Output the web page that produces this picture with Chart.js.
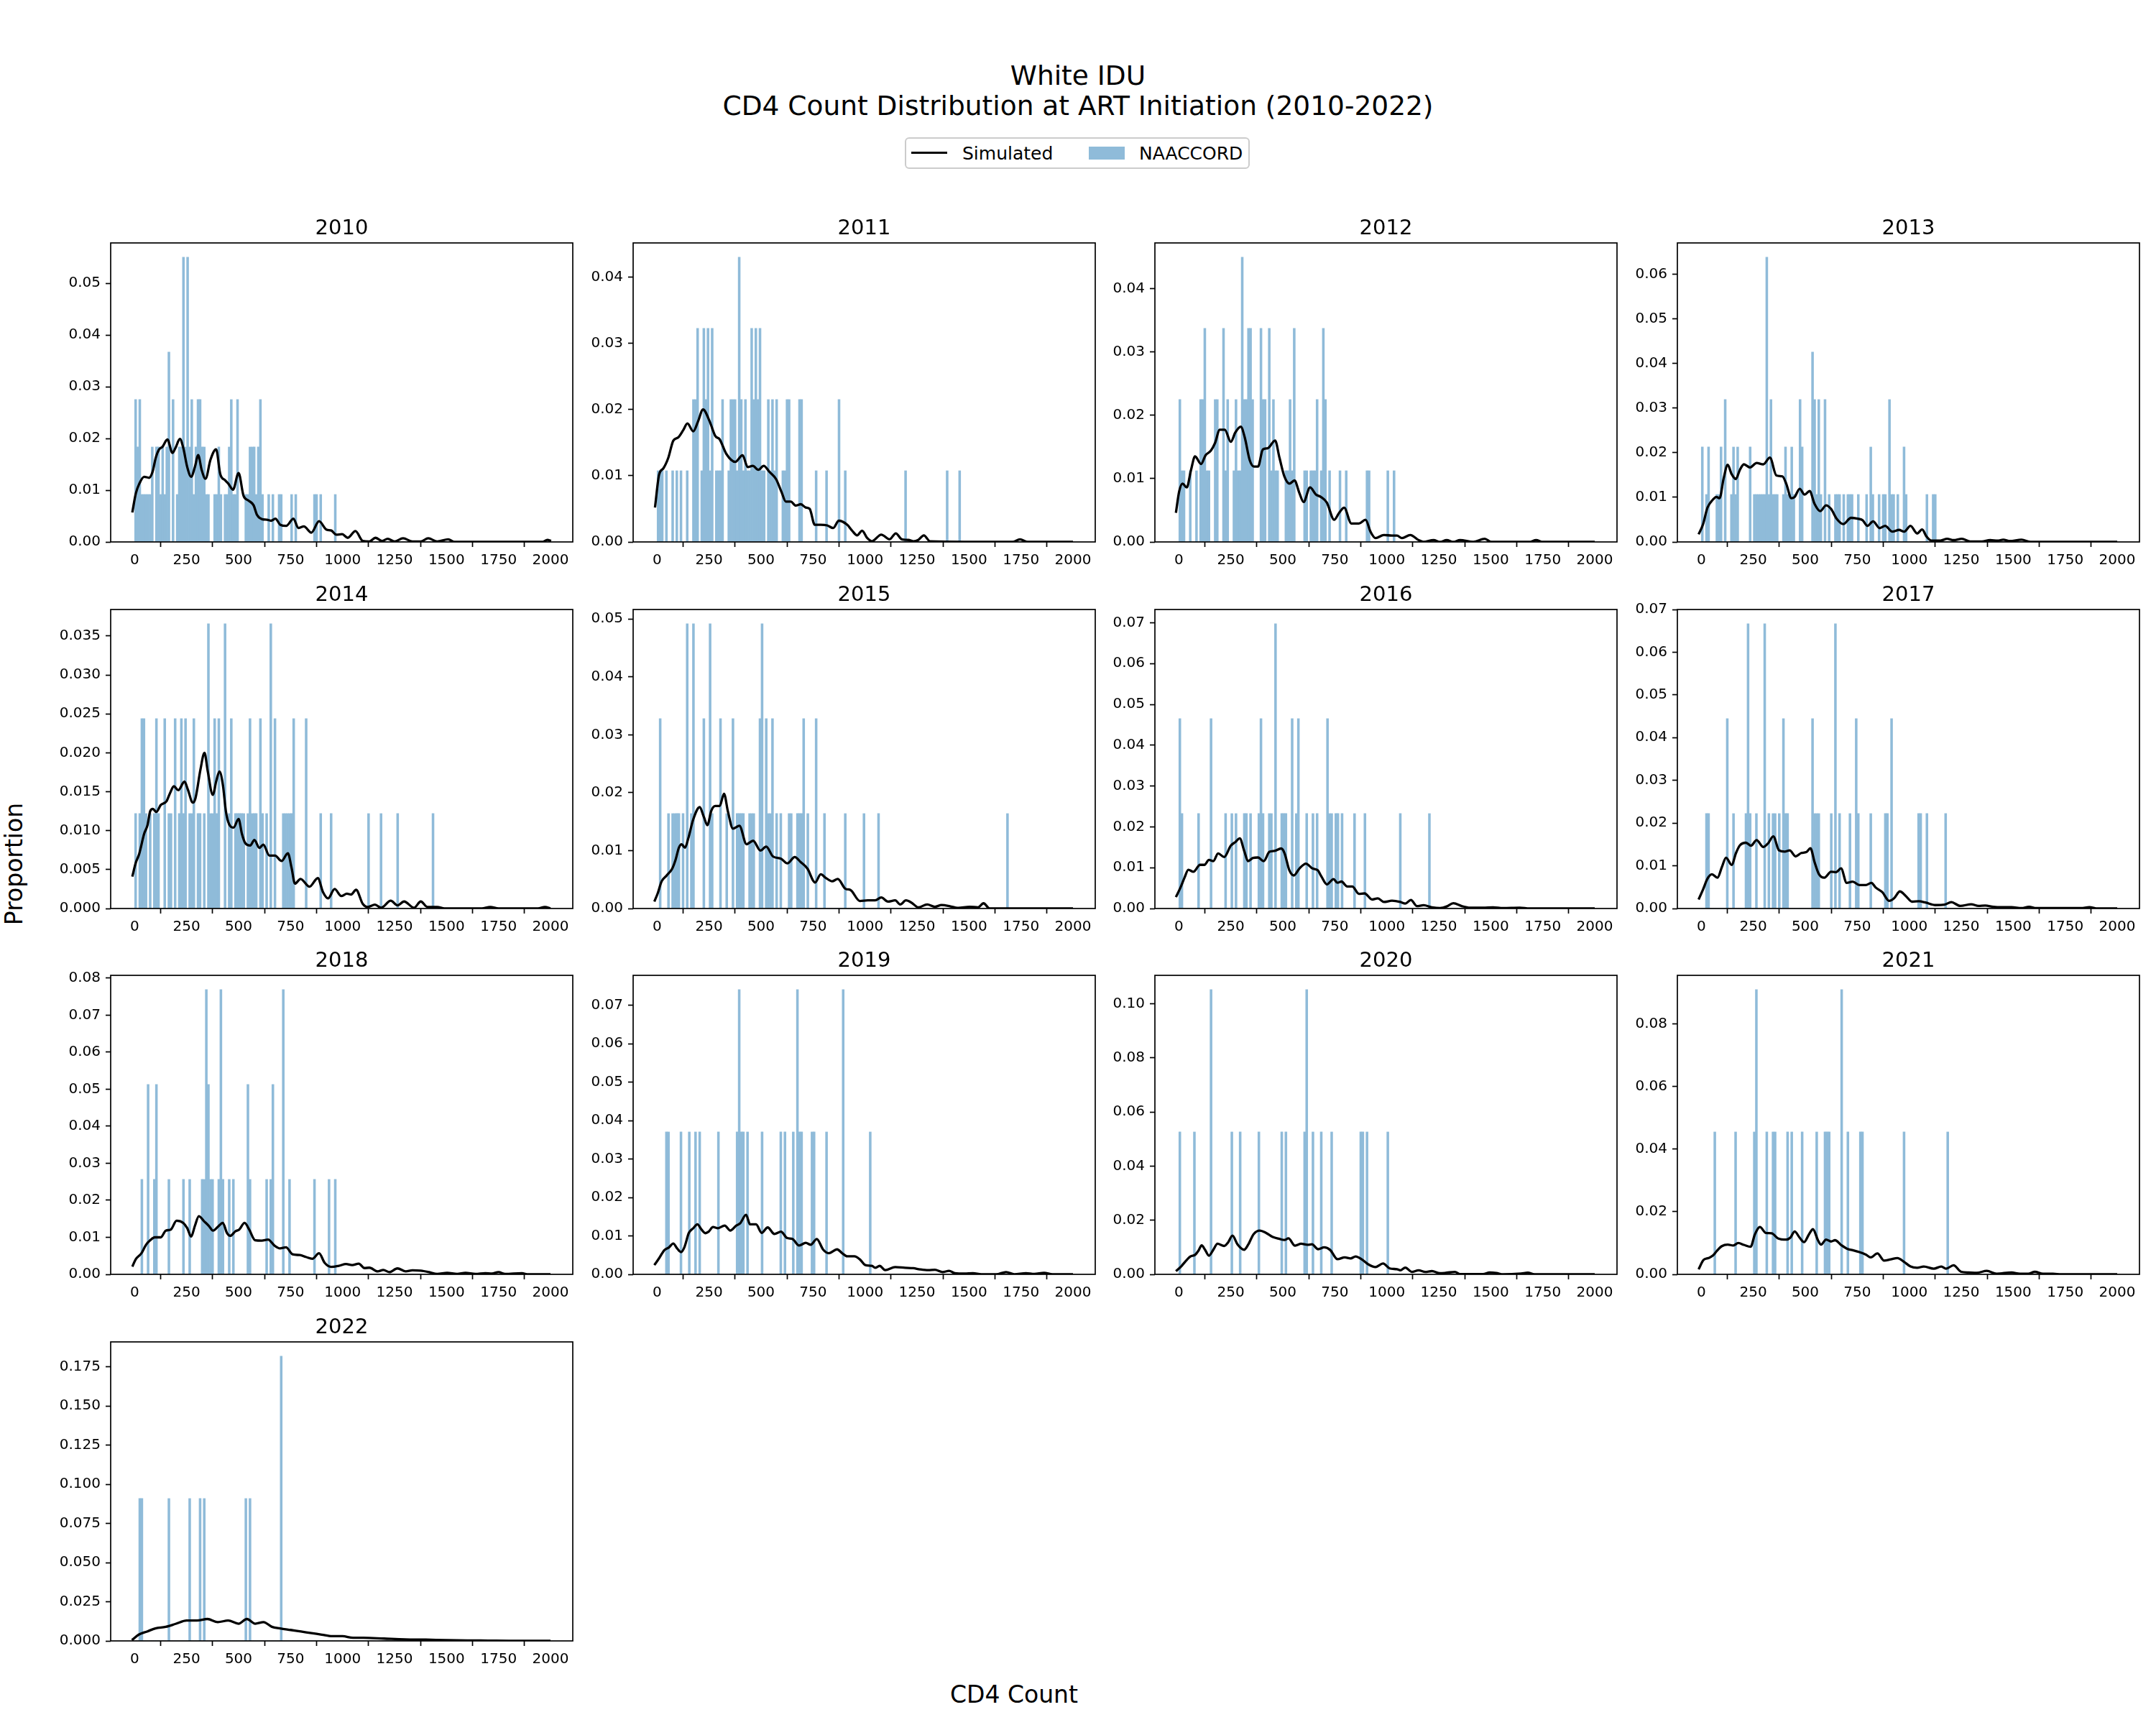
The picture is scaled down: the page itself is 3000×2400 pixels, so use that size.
<!DOCTYPE html>
<html>
<head>
<meta charset="utf-8">
<script src="https://cdn.jsdelivr.net/npm/chart.js@4.4.1/dist/chart.umd.min.js"></script>
<style>
  body { margin: 0; background: #fff; }
  #fig { position: relative; width: 3000px; height: 2400px; overflow: hidden; background: #fff;
         font-family: 'DejaVu Sans', sans-serif; color: #000; }
  #fig canvas { position: absolute; }
  .txt { position: absolute; line-height: 1; white-space: nowrap; }
</style>
</head>
<body>
<div id="fig">
  <div class="txt" style="left:0; width:3000px; text-align:center; top:87px; font-size:37.5px;">White IDU</div>
  <div class="txt" style="left:0; width:3000px; text-align:center; top:129px; font-size:37.5px;">CD4 Count Distribution at ART Initiation (2010-2022)</div>

  <div style="position:absolute; left:1259px; top:191px; width:480px; height:44px; box-sizing:border-box; border:2px solid #cccccc; border-radius:6px; background:#fff;"></div>
  <div style="position:absolute; left:1268px; top:211px; width:50px; height:3px; background:#000;"></div>
  <div class="txt" style="left:1339px; top:201px; font-size:25px;">Simulated</div>
  <div style="position:absolute; left:1515px; top:204px; width:50px; height:17.5px; background:#8fbbd9;"></div>
  <div class="txt" style="left:1585px; top:201px; font-size:25px;">NAACCORD</div>

  <div class="txt" style="left:19px; top:1202px; font-size:33px; transform:translate(-50%,-50%) rotate(-90deg);">Proportion</div>
  <div class="txt" style="left:1411px; top:2357px; font-size:33px; transform:translate(-50%,-50%);">CD4 Count</div>
</div>
<script>
// ---- data ----
const binWidth = 10;
const xTicks = [0, 250, 500, 750, 1000, 1250, 1500, 1750, 2000];

// NAACCORD: [bin start, patients in bin], n = patients that year
const n2010 = 109;
const bars2010 = [[0,3],[10,2],[20,3],[30,1],[40,1],[50,1],[60,1],[70,1],[80,2],[100,2],[110,2],[120,1],[130,2],[140,1],[150,2],[160,4],[180,3],[200,1],[210,2],[220,2],[230,6],[240,2],[250,6],[260,2],[270,3],[280,1],[290,2],[300,3],[310,3],[320,2],[330,2],[340,1],[350,1],[380,1],[390,1],[400,2],[410,1],[430,1],[440,1],[450,2],[460,3],[470,1],[480,1],[490,3],[530,1],[540,1],[550,2],[560,2],[570,2],[580,1],[590,2],[600,3],[610,1],[640,1],[660,1],[690,1],[700,1],[750,1],[770,1],[860,1],[870,1],[890,1],[960,1]];
const n2011 = 93;
const bars2011 = [[0,1],[10,1],[20,1],[40,1],[70,1],[90,1],[110,1],[140,1],[170,2],[180,2],[190,3],[210,1],[220,3],[230,2],[240,3],[250,1],[260,3],[280,1],[290,1],[300,1],[310,2],[340,1],[350,2],[360,2],[370,2],[380,1],[390,4],[400,2],[410,1],[420,2],[430,1],[440,1],[450,3],[460,2],[470,3],[480,2],[490,3],[500,1],[510,1],[530,2],[540,1],[550,2],[560,1],[570,2],[600,1],[610,1],[620,2],[630,2],[680,2],[690,2],[760,1],[810,1],[870,2],[900,1],[1190,1],[1390,1],[1450,1]];
const n2012 = 89;
const bars2012 = [[0,2],[10,1],[20,1],[50,1],[80,1],[100,2],[110,2],[120,3],[130,1],[140,1],[170,2],[180,2],[210,3],[220,1],[230,2],[260,1],[270,2],[280,1],[290,1],[300,4],[310,2],[320,2],[330,3],[340,3],[350,2],[390,3],[400,2],[410,2],[430,3],[440,1],[450,2],[460,1],[470,1],[510,1],[520,1],[530,2],[540,1],[550,3],[600,1],[610,1],[630,1],[640,1],[650,1],[660,2],[680,1],[690,3],[700,2],[720,1],[770,1],[800,1],[900,1],[910,1],[1000,1],[1030,1]];
const n2013 = 94;
const bars2013 = [[0,2],[20,1],[30,2],[70,1],[80,1],[90,2],[110,3],[140,1],[150,2],[160,1],[170,2],[230,2],[250,1],[260,1],[270,1],[280,1],[290,1],[300,1],[310,6],[320,1],[330,3],[340,1],[350,1],[360,1],[390,1],[400,2],[410,1],[420,1],[430,2],[440,1],[470,3],[480,2],[530,4],[540,3],[550,1],[560,3],[570,1],[590,3],[610,1],[640,1],[650,1],[660,1],[680,1],[700,1],[710,1],[720,1],[750,1],[790,1],[810,2],[820,1],[850,1],[870,1],[880,1],[900,3],[910,1],[920,1],[940,1],[970,2],[980,1],[1080,1],[1110,1],[1120,1]];
const n2014 = 82;
const bars2014 = [[0,1],[20,1],[30,2],[40,2],[50,1],[70,1],[90,1],[100,2],[110,1],[140,2],[160,1],[170,1],[190,2],[210,1],[220,2],[230,1],[240,2],[260,1],[270,1],[280,2],[300,1],[310,1],[330,1],[350,3],[360,1],[370,1],[380,2],[390,1],[400,2],[430,3],[450,1],[460,2],[480,1],[490,1],[500,1],[510,1],[520,1],[540,1],[550,2],[560,1],[570,1],[580,1],[600,2],[610,1],[630,1],[650,3],[670,2],[710,1],[720,1],[730,1],[740,1],[750,1],[760,2],[820,2],[890,1],[940,1],[1120,1],[1180,1],[1260,1],[1430,1]];
const n2015 = 61;
const bars2015 = [[10,2],[50,1],[70,1],[80,1],[90,1],[100,1],[120,1],[140,3],[160,1],[170,3],[220,2],[250,3],[260,1],[300,2],[330,1],[360,2],[380,1],[390,1],[400,1],[410,1],[440,1],[450,1],[460,1],[490,2],[500,3],[520,2],[530,1],[540,1],[550,2],[570,1],[590,1],[630,1],[640,1],[670,1],[680,1],[690,1],[700,2],[720,1],[760,2],[800,1],[900,1],[990,1],[1060,1],[1680,1]];
const n2016 = 43;
const bars2016 = [[0,2],[10,1],[90,1],[150,2],[220,1],[250,1],[270,1],[310,1],[320,1],[340,1],[380,1],[390,2],[400,1],[430,1],[440,1],[460,3],[490,1],[500,1],[510,1],[540,2],[560,1],[570,2],[610,1],[640,1],[660,1],[710,2],[720,1],[730,1],[750,1],[760,1],[780,1],[840,1],[890,1],[1060,1],[1200,1]];
const n2017 = 45;
const bars2017 = [[20,1],[30,1],[120,2],[150,1],[210,1],[220,3],[230,1],[260,1],[300,3],[320,1],[340,1],[350,1],[370,1],[390,2],[400,1],[410,1],[530,2],[540,1],[550,1],[560,1],[620,1],[640,3],[660,1],[710,1],[740,2],[750,1],[810,1],[880,1],[890,1],[910,2],[1040,1],[1050,1],[1080,1],[1170,1]];
const n2018 = 39;
const bars2018 = [[30,1],[60,2],[90,1],[100,2],[160,1],[230,1],[260,1],[320,1],[330,1],[340,3],[350,2],[360,1],[370,1],[400,1],[410,3],[420,1],[450,1],[470,1],[540,2],[550,1],[630,1],[650,1],[660,2],[710,3],[740,1],[860,1],[930,1],[960,1]];
const n2019 = 27;
const bars2019 = [[40,1],[50,1],[110,1],[150,1],[180,1],[200,1],[290,1],[380,1],[390,2],[400,1],[410,1],[430,1],[500,1],[590,1],[610,1],[650,1],[670,2],[680,1],[690,1],[740,1],[750,1],[810,1],[890,2],[1020,1]];
const n2020 = 19;
const bars2020 = [[0,1],[70,1],[150,2],[250,1],[290,1],[380,1],[490,1],[510,1],[600,1],[610,2],[640,1],[680,1],[730,1],[870,1],[880,1],[900,1],[1000,1]];
const n2021 = 22;
const bars2021 = [[60,1],[160,1],[250,1],[260,2],[310,1],[340,1],[350,1],[410,1],[430,1],[480,1],[550,1],[590,1],[600,1],[610,1],[670,2],[700,1],[760,1],[770,1],[970,1],[1180,1]];
const n2022 = 11;
const bars2022 = [[20,1],[30,1],[160,1],[260,1],[310,1],[330,1],[530,1],[550,1],[700,2]];

// Simulated density: [CD4 count, proportion]
const sim2010 = [[-11,0.0057],[6,0.0094],[22,0.0112],[46,0.0126],[70,0.0124],[86,0.0135],[102,0.0163],[118,0.0179],[134,0.0184],[158,0.0198],[182,0.0172],[197,0.0182],[218,0.0199],[234,0.0182],[253,0.0145],[272,0.0126],[290,0.0145],[306,0.0168],[322,0.0140],[341,0.0122],[365,0.0159],[392,0.0179],[412,0.0131],[436,0.0119],[452,0.0112],[473,0.0101],[500,0.0133],[524,0.0089],[548,0.0080],[572,0.0071],[589,0.0052],[613,0.0044],[637,0.0043],[656,0.0041],[677,0.0045],[701,0.0033],[729,0.0031],[764,0.0045],[787,0.0027],[814,0.0030],[850,0.0018],[887,0.0040],[922,0.0024],[946,0.0022],[970,0.0014],[998,0.0015],[1025,0.0008],[1062,0.0021],[1097,0.0002],[1129,0.0001],[1158,0.0008],[1190,0.0002],[1217,0.0006],[1250,0.0001],[1291,0.0007],[1336,0.0001],[1376,0.0001],[1412,0.0007],[1455,0.0001],[1508,0.0005],[1538,0],[1960,0],[1985,0.0004],[2003,0.0002]];
const sim2011 = [[-10,0.0052],[10,0.0102],[30,0.0111],[54,0.0127],[78,0.0153],[102,0.0158],[126,0.0169],[146,0.0179],[174,0.0167],[197,0.0182],[221,0.0200],[253,0.0182],[280,0.0160],[301,0.0155],[333,0.0133],[376,0.0121],[411,0.0131],[436,0.0113],[460,0.0115],[487,0.0109],[513,0.0115],[540,0.0106],[572,0.0095],[599,0.0075],[619,0.0061],[643,0.0061],[667,0.0055],[691,0.0057],[715,0.0052],[734,0.0050],[758,0.0026],[787,0.0026],[818,0.0025],[847,0.0021],[874,0.0032],[914,0.0026],[938,0.0017],[962,0.0010],[986,0.0017],[1010,0.0006],[1033,0.0001],[1078,0.0011],[1118,0.0004],[1148,0.0013],[1177,0.0004],[1209,0.0003],[1232,0.0001],[1256,0.0003],[1283,0.0010],[1312,0.0001],[1710,0],[1745,0.0004],[1782,0],[2000,0]];
const sim2012 = [[-14,0.0046],[2,0.0080],[18,0.0092],[38,0.0086],[59,0.0114],[78,0.0135],[107,0.0123],[129,0.0137],[154,0.0144],[174,0.0156],[197,0.0177],[221,0.0177],[250,0.0158],[272,0.0173],[298,0.0182],[317,0.0165],[341,0.0129],[361,0.0119],[381,0.0119],[404,0.0146],[428,0.0148],[463,0.0160],[484,0.0133],[508,0.0103],[532,0.0092],[556,0.0097],[580,0.0077],[600,0.0063],[631,0.0086],[659,0.0075],[683,0.0071],[712,0.0062],[747,0.0035],[771,0.0046],[795,0.0054],[830,0.0029],[866,0.0029],[898,0.0035],[922,0.0016],[946,0.0006],[986,0.0011],[1025,0.0010],[1049,0.0010],[1073,0.0006],[1113,0.0011],[1153,0.0003],[1177,0],[1225,0.0003],[1256,0],[1288,0.0003],[1320,0],[1352,0.0003],[1416,0],[1471,0.0005],[1503,0],[1686,0],[1718,0.0003],[1750,0],[2000,0]];
const sim2013 = [[-13,0.0017],[8,0.0039],[30,0.0077],[56,0.0095],[72,0.0101],[88,0.0098],[107,0.0141],[127,0.0173],[146,0.0152],[166,0.0141],[186,0.0162],[205,0.0174],[234,0.0167],[266,0.0177],[298,0.0174],[330,0.0189],[361,0.0149],[390,0.0147],[409,0.0130],[433,0.0098],[449,0.0101],[473,0.0119],[497,0.0106],[521,0.0114],[545,0.0085],[572,0.0069],[600,0.0082],[624,0.0074],[651,0.0052],[683,0.0040],[720,0.0054],[752,0.0052],[775,0.0049],[799,0.0036],[826,0.0046],[858,0.0031],[884,0.0036],[919,0.0023],[951,0.0027],[975,0.0023],[1006,0.0036],[1038,0.0019],[1062,0.0028],[1083,0.0012],[1107,0.0003],[1150,0.0003],[1182,0.0007],[1213,0.0004],[1253,0.0007],[1293,0.0001],[1349,0.0001],[1389,0.0004],[1425,0.0003],[1452,0.0005],[1484,0.0002],[1540,0.0005],[1584,0],[2000,0]];
const sim2014 = [[-11,0.0041],[6,0.0059],[22,0.0070],[46,0.0096],[62,0.0107],[75,0.0125],[88,0.0128],[104,0.0124],[126,0.0133],[154,0.0138],[170,0.0148],[189,0.0157],[210,0.0152],[240,0.0163],[256,0.0153],[280,0.0136],[293,0.0142],[317,0.0179],[336,0.0200],[352,0.0176],[376,0.0146],[393,0.0164],[408,0.0176],[425,0.0158],[439,0.0125],[455,0.0108],[476,0.0104],[500,0.0115],[516,0.0096],[532,0.0084],[556,0.0081],[576,0.0088],[600,0.0078],[619,0.0082],[648,0.0068],[675,0.0068],[707,0.0061],[737,0.0071],[755,0.0052],[771,0.0032],[798,0.0038],[841,0.0028],[881,0.0039],[906,0.0021],[930,0.0013],[962,0.0025],[994,0.0016],[1021,0.0019],[1041,0.0018],[1065,0.0024],[1097,0.0006],[1121,0.0002],[1156,0.0005],[1185,0.0001],[1232,0.0010],[1264,0.0004],[1296,0.0009],[1344,0.0001],[1376,0.0009],[1408,0.0002],[1455,0.0002],[1490,0],[1670,0],[1710,0.0002],[1750,0],[1940,0],[1973,0.0002],[2000,0]];
const sim2015 = [[-13,0.0012],[3,0.0026],[22,0.0047],[46,0.0057],[73,0.0069],[89,0.0084],[105,0.0105],[118,0.0111],[134,0.0105],[150,0.0121],[174,0.0154],[205,0.0175],[225,0.0158],[242,0.0144],[261,0.0169],[280,0.0177],[301,0.0177],[322,0.0198],[341,0.0167],[365,0.0138],[396,0.0143],[430,0.0111],[462,0.0117],[497,0.0100],[525,0.0107],[557,0.0090],[596,0.0086],[627,0.0078],[662,0.0089],[691,0.0080],[723,0.0069],[760,0.0045],[787,0.0059],[811,0.0053],[842,0.0047],[869,0.0051],[906,0.0034],[930,0.0032],[975,0.0013],[1013,0.0014],[1049,0.0014],[1078,0.0019],[1110,0.0012],[1145,0.0014],[1169,0.0007],[1197,0.0014],[1224,0.0010],[1256,0.0002],[1299,0.0007],[1336,0.0003],[1368,0.0006],[1408,0.0004],[1447,0.0001],[1503,0.0003],[1543,0.0002],[1570,0.0009],[1599,0],[2000,0]];
const sim2016 = [[-14,0.0028],[6,0.0049],[27,0.0075],[46,0.0095],[70,0.0090],[102,0.0107],[123,0.0107],[145,0.0119],[166,0.0116],[189,0.0135],[218,0.0126],[250,0.0154],[272,0.0163],[293,0.0172],[314,0.0142],[333,0.0116],[357,0.0124],[381,0.0125],[408,0.0116],[436,0.0139],[460,0.0141],[492,0.0147],[508,0.0136],[532,0.0093],[553,0.0081],[580,0.0098],[611,0.0110],[643,0.0098],[667,0.0094],[686,0.0078],[712,0.0059],[744,0.0072],[763,0.0063],[782,0.0066],[810,0.0054],[834,0.0054],[866,0.0036],[893,0.0037],[930,0.0022],[957,0.0025],[986,0.0016],[1025,0.0019],[1065,0.0016],[1089,0.0012],[1116,0.0021],[1145,0.0006],[1177,0.0008],[1217,0.0003],[1256,0.0001],[1288,0.0005],[1320,0.0013],[1360,0.0006],[1400,0.0002],[1463,0.0002],[1511,0.0003],[1559,0.0001],[1639,0.0002],[1686,0],[2000,0]];
const sim2017 = [[-13,0.0021],[8,0.0044],[30,0.0070],[51,0.0080],[78,0.0072],[99,0.0097],[119,0.0119],[146,0.0102],[167,0.0130],[186,0.0148],[215,0.0154],[239,0.0147],[266,0.0160],[298,0.0144],[322,0.0153],[346,0.0169],[374,0.0136],[401,0.0133],[425,0.0136],[454,0.0122],[481,0.0130],[505,0.0132],[525,0.0141],[545,0.0108],[565,0.0081],[592,0.0072],[624,0.0086],[648,0.0085],[672,0.0094],[699,0.0060],[728,0.0063],[760,0.0055],[791,0.0055],[818,0.0060],[839,0.0049],[871,0.0038],[903,0.0018],[927,0.0024],[955,0.0040],[982,0.0030],[1014,0.0016],[1046,0.0017],[1078,0.0014],[1126,0.0008],[1170,0.0009],[1202,0.0015],[1245,0.0006],[1298,0.0010],[1333,0.0006],[1365,0.0007],[1404,0.0004],[1444,0.0003],[1492,0.0003],[1540,0.0001],[1576,0.0004],[1611,0.0001],[1826,0.0001],[1866,0.0003],[1906,0],[2000,0]];
const sim2018 = [[-11,0.0021],[6,0.0041],[33,0.0057],[54,0.0079],[75,0.0092],[97,0.0100],[126,0.0100],[150,0.0118],[174,0.0121],[202,0.0145],[234,0.0139],[253,0.0125],[272,0.0102],[290,0.0131],[309,0.0157],[333,0.0144],[357,0.0131],[377,0.0118],[400,0.0128],[424,0.0139],[444,0.0112],[460,0.0104],[484,0.0116],[503,0.0121],[529,0.0139],[551,0.0121],[580,0.0092],[611,0.0091],[642,0.0094],[672,0.0078],[699,0.0070],[728,0.0073],[760,0.0054],[795,0.0052],[823,0.0047],[855,0.0042],[887,0.0057],[914,0.0031],[946,0.0020],[982,0.0023],[1017,0.0028],[1046,0.0025],[1078,0.0029],[1105,0.0017],[1129,0.0018],[1169,0.0008],[1196,0.0012],[1225,0.0006],[1264,0.0016],[1304,0.0008],[1336,0.0011],[1376,0.0010],[1416,0.0006],[1455,0.0001],[1503,0.0004],[1551,0.0001],[1591,0.0004],[1639,0.0001],[1686,0.0003],[1718,0.0002],[1750,0.0006],[1782,0.0001],[1862,0.0003],[1893,0],[2000,0]];
const sim2019 = [[-13,0.0024],[10,0.0042],[35,0.0063],[57,0.0070],[78,0.0080],[97,0.0067],[115,0.0058],[131,0.0070],[153,0.0108],[174,0.0120],[194,0.0130],[213,0.0117],[232,0.0107],[248,0.0111],[269,0.0123],[293,0.0120],[325,0.0127],[352,0.0114],[381,0.0127],[400,0.0133],[428,0.0155],[447,0.0130],[476,0.0130],[503,0.0108],[532,0.0122],[564,0.0105],[596,0.0111],[624,0.0095],[651,0.0092],[683,0.0075],[715,0.0082],[739,0.0077],[768,0.0092],[799,0.0064],[826,0.0055],[866,0.0065],[890,0.0055],[914,0.0047],[949,0.0047],[975,0.0039],[1002,0.0024],[1033,0.0022],[1049,0.0017],[1070,0.0022],[1097,0.0011],[1145,0.0019],[1193,0.0017],[1232,0.0016],[1264,0.0013],[1304,0.0011],[1336,0.0012],[1373,0.0006],[1404,0.0009],[1432,0.0003],[1479,0.0002],[1519,0.0003],[1559,0],[1631,0],[1678,0.0006],[1718,0],[1774,0.0003],[1814,0.0001],[1861,0.0004],[1901,0],[2000,0]];
const sim2020 = [[-14,0.0012],[11,0.0029],[33,0.0049],[56,0.0066],[78,0.0072],[94,0.0087],[110,0.0107],[126,0.0091],[145,0.0069],[166,0.0091],[186,0.0113],[218,0.0105],[237,0.0118],[258,0.0143],[282,0.0111],[314,0.0091],[333,0.0109],[360,0.0149],[389,0.0162],[420,0.0153],[452,0.0138],[484,0.0131],[508,0.0127],[527,0.0133],[559,0.0106],[588,0.0113],[619,0.0109],[640,0.0111],[670,0.0093],[699,0.0100],[728,0.0090],[763,0.0056],[798,0.0063],[826,0.0059],[850,0.0066],[882,0.0054],[909,0.0038],[946,0.0027],[982,0.0040],[1014,0.0022],[1049,0.0019],[1065,0.0015],[1089,0.0025],[1121,0.0009],[1153,0.0015],[1185,0.0009],[1217,0.0012],[1256,0.0004],[1288,0.0006],[1328,0.0009],[1352,0.0001],[1463,0.0001],[1495,0.0007],[1527,0.0005],[1559,0],[1646,0.0003],[1678,0.0006],[1710,0],[2000,0]];
const sim2021 = [[-13,0.0016],[11,0.0046],[35,0.0052],[56,0.0060],[75,0.0075],[99,0.0090],[127,0.0095],[154,0.0092],[178,0.0100],[205,0.0094],[237,0.0088],[258,0.0128],[282,0.0151],[311,0.0132],[338,0.0131],[369,0.0115],[409,0.0111],[428,0.0117],[449,0.0137],[473,0.0117],[494,0.0103],[518,0.0128],[537,0.0144],[561,0.0109],[576,0.0095],[600,0.0111],[624,0.0105],[643,0.0109],[672,0.0094],[704,0.0081],[728,0.0077],[760,0.0071],[791,0.0063],[815,0.0054],[847,0.0067],[879,0.0044],[911,0.0048],[943,0.0052],[975,0.0040],[1006,0.0025],[1038,0.0021],[1070,0.0025],[1118,0.0018],[1154,0.0025],[1177,0.0018],[1213,0.0029],[1250,0.0008],[1285,0.0006],[1325,0.0005],[1373,0.0011],[1420,0.0002],[1492,0.0006],[1532,0.0002],[1572,0.0002],[1604,0.0008],[1643,0.0002],[1691,0.0002],[1731,0],[2000,0]];
const sim2022 = [[-13,0.0005],[20,0.0040],[60,0.0060],[100,0.0080],[150,0.0090],[200,0.0110],[250,0.0130],[300,0.0130],[350,0.0140],[400,0.0120],[450,0.0130],[500,0.0110],[540,0.0140],[580,0.0110],[620,0.0120],[660,0.0090],[700,0.0080],[750,0.0070],[800,0.0060],[850,0.0050],[900,0.0040],[950,0.0030],[1000,0.0030],[1050,0.0020],[1100,0.0020],[1200,0.0015],[1300,0.0010],[1400,0.0008],[1500,0.0005],[1600,0.0003],[1700,0.0002],[1800,0.0001],[2000,0]];

// y tick labels per panel
const yTicks2010 = [0, 0.01, 0.02, 0.03, 0.04, 0.05];
const yTicks2011 = [0, 0.01, 0.02, 0.03, 0.04];
const yTicks2012 = [0, 0.01, 0.02, 0.03, 0.04];
const yTicks2013 = [0, 0.01, 0.02, 0.03, 0.04, 0.05, 0.06];
const yTicks2014 = [0, 0.005, 0.01, 0.015, 0.02, 0.025, 0.03, 0.035];
const yTicks2015 = [0, 0.01, 0.02, 0.03, 0.04, 0.05];
const yTicks2016 = [0, 0.01, 0.02, 0.03, 0.04, 0.05, 0.06, 0.07];
const yTicks2017 = [0, 0.01, 0.02, 0.03, 0.04, 0.05, 0.06, 0.07];
const yTicks2018 = [0, 0.01, 0.02, 0.03, 0.04, 0.05, 0.06, 0.07, 0.08];
const yTicks2019 = [0, 0.01, 0.02, 0.03, 0.04, 0.05, 0.06, 0.07];
const yTicks2020 = [0, 0.02, 0.04, 0.06, 0.08, 0.10];
const yTicks2021 = [0, 0.02, 0.04, 0.06, 0.08];
const yTicks2022 = [0, 0.025, 0.05, 0.075, 0.1, 0.125, 0.15, 0.175];

const panels = [
  { year: 2010, n: n2010, bars: bars2010, sim: sim2010, yTicks: yTicks2010 },
  { year: 2011, n: n2011, bars: bars2011, sim: sim2011, yTicks: yTicks2011 },
  { year: 2012, n: n2012, bars: bars2012, sim: sim2012, yTicks: yTicks2012 },
  { year: 2013, n: n2013, bars: bars2013, sim: sim2013, yTicks: yTicks2013 },
  { year: 2014, n: n2014, bars: bars2014, sim: sim2014, yTicks: yTicks2014 },
  { year: 2015, n: n2015, bars: bars2015, sim: sim2015, yTicks: yTicks2015 },
  { year: 2016, n: n2016, bars: bars2016, sim: sim2016, yTicks: yTicks2016 },
  { year: 2017, n: n2017, bars: bars2017, sim: sim2017, yTicks: yTicks2017 },
  { year: 2018, n: n2018, bars: bars2018, sim: sim2018, yTicks: yTicks2018 },
  { year: 2019, n: n2019, bars: bars2019, sim: sim2019, yTicks: yTicks2019 },
  { year: 2020, n: n2020, bars: bars2020, sim: sim2020, yTicks: yTicks2020 },
  { year: 2021, n: n2021, bars: bars2021, sim: sim2021, yTicks: yTicks2021 },
  { year: 2022, n: n2022, bars: bars2022, sim: sim2022, yTicks: yTicks2022 }
];

// ---- layout ----
const colLeft = [154, 881, 1607, 2334];
const rowTop = [338, 848, 1357, 1867];
const axW = 643, axH = 416;
const padL = 120, padT = 38, padB = 45, padR = 10;
const xMin = -115, xMax = 2107;
const fontFamily = "'DejaVu Sans', sans-serif";

Chart.defaults.font.family = fontFamily;
Chart.defaults.color = '#000';

// full set of bins so every bar gets the same 10-unit width
function histogram(bars, n) {
  const counts = new Map(bars);
  const out = [];
  for (let b = 0; b < 2000; b += binWidth) {
    out.push({ x: b + binWidth / 2, y: (counts.get(b) || 0) / n });
  }
  return out;
}

// matplotlib-style box around the axes
const framePlugin = {
  id: 'frame',
  afterDatasetsDraw(chart) {
    const { ctx, chartArea: a } = chart;
    ctx.save();
    ctx.strokeStyle = '#000';
    ctx.lineWidth = 1.7;
    ctx.strokeRect(a.left, a.top, a.right - a.left, a.bottom - a.top);
    ctx.restore();
  }
};

const fig = document.getElementById('fig');

panels.forEach((p, i) => {
  const canvas = document.createElement('canvas');
  canvas.width = padL + axW + padR;
  canvas.height = padT + axH + padB;
  canvas.style.left = (colLeft[i % 4] - padL) + 'px';
  canvas.style.top = (rowTop[Math.floor(i / 4)] - padT) + 'px';
  fig.appendChild(canvas);

  const hist = histogram(p.bars, p.n);
  const peak = Math.max(...hist.map(d => d.y), ...p.sim.map(d => d[1]));
  const yMax = peak * 1.05;
  const dec = p.yTicks.some(t => Math.round(t * 1000) % 10 !== 0) ? 3 : 2;

  const tickGrid = { display: true, drawOnChartArea: false, drawTicks: true, tickLength: 7, tickWidth: 1.7, tickColor: '#000' };

  new Chart(canvas, {
    type: 'bar',
    data: {
      datasets: [
        {
          type: 'line',
          label: 'Simulated',
          data: p.sim.map(([x, y]) => ({ x, y })),
          borderColor: '#000',
          borderWidth: 3.3,
          pointRadius: 0,
          cubicInterpolationMode: 'monotone',
          order: 0
        },
        {
          type: 'bar',
          label: 'NAACCORD',
          data: hist,
          backgroundColor: '#8fbbd9',
          borderWidth: 0,
          barPercentage: 1,
          categoryPercentage: 1,
          order: 1
        }
      ]
    },
    options: {
      responsive: false,
      animation: false,
      devicePixelRatio: 1,
      layout: { padding: { left: 0, right: padR, top: 0, bottom: 0 } },
      plugins: {
        legend: { display: false },
        tooltip: { enabled: false },
        title: {
          display: true,
          text: String(p.year),
          fullSize: false,
          color: '#000',
          font: { family: fontFamily, size: 29, weight: 'normal', lineHeight: 1 },
          padding: { top: 4, bottom: padT - 29 - 4 }
        }
      },
      scales: {
        x: {
          type: 'linear',
          min: xMin,
          max: xMax,
          offset: false,
          grid: tickGrid,
          border: { display: false },
          ticks: { autoSkip: false, maxRotation: 0, padding: 7, color: '#000',
                   font: { family: fontFamily, size: 20 }, callback: v => String(v) },
          afterBuildTicks: s => { s.ticks = xTicks.map(v => ({ value: v })); },
          afterFit: s => { s.height = padB; s.paddingLeft = 0; s.paddingRight = 0; }
        },
        y: {
          type: 'linear',
          min: 0,
          max: yMax,
          grid: tickGrid,
          border: { display: false },
          ticks: { autoSkip: false, padding: 7, color: '#000',
                   font: { family: fontFamily, size: 20 }, callback: v => Number(v).toFixed(dec) },
          afterBuildTicks: s => { s.ticks = p.yTicks.map(v => ({ value: v })); },
          afterFit: s => { s.width = padL; s.paddingTop = 0; s.paddingBottom = 0; }
        }
      }
    },
    plugins: [framePlugin]
  });
});
</script>
</body>
</html>
